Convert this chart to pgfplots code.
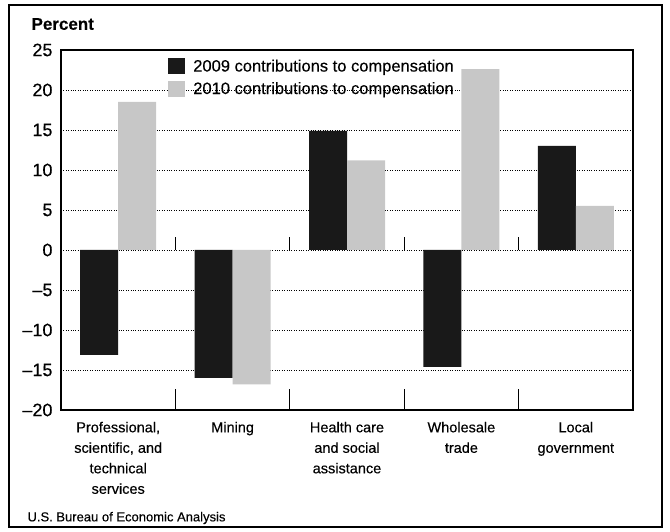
\documentclass[border=0pt]{standalone}
\usepackage{pgfplots}
\pgfplotsset{compat=1.18}
\usepackage{fontspec}
\setmainfont{Liberation Sans}[FakeBold=0.3]

\definecolor{dark}{gray}{0.1}
\definecolor{light}{gray}{0.78}

\begin{document}
\begin{tikzpicture}[x=1pt,y=1pt]
\begin{axis}[
    at={(61pt,122pt)}, anchor=south west,
    scale only axis, width=572pt, height=360pt,
    ymin=-20, ymax=25, xmin=-0.5, xmax=4.5,
    ytick={-20,-15,...,25},
    yticklabels={–20,–15,–10,–5,0,5,10,15,20,25},
    yticklabel style={font=\fontsize{18}{20}\selectfont, xshift=-5pt},
    ytick style={draw=none},
    ymajorgrids, grid style={black, dotted, line width=0.6pt},
    xtick={0,...,4},
    xticklabels={{Professional,\\scientific, and\\technical\\services},
                 {Mining},
                 {Health care\\and social\\assistance},
                 {Wholesale\\trade},
                 {Local\\government}},
    xticklabel style={font=\fontsize{14.5}{20.5}\selectfont, align=center, yshift=-4pt},
    xtick style={draw=none},
    xtick pos=bottom,
    axis line style={line width=1.6pt},
    ybar=0pt, bar width=38pt,
    legend style={at={(0.182,0.985)}, anchor=north west, draw=none, fill=none,
        font=\fontsize{16.5}{19}\selectfont, row sep=5pt,
        /tikz/every odd column/.append style={column sep=6pt}},
    legend cell align=left,
    legend image code/.code={\fill[#1] (0pt,-8pt) rectangle (17pt,8pt);},
]
\addplot[fill=dark, draw=none, bar shift=-19pt] coordinates {
    (0,-13.1) (1,-16.0) (2,14.9) (3,-14.6) (4,13.0)};
\addplot[fill=light, draw=none, bar shift=19pt] coordinates {
    (0,18.5) (1,-16.8) (2,11.2) (3,22.6) (4,5.5)};
\legend{2009 contributions to compensation, 2010 contributions to compensation}
\foreach \s in {0.5,1.5,2.5,3.5}{
  \edef\tmp{\noexpand\draw[black, line width=1pt] (axis cs:\s,0) -- ++(0pt,13pt);
    \noexpand\draw[black, line width=1pt] (axis cs:\s,-20) -- ++(0pt,21pt);}\tmp
}
\end{axis}
\node[anchor=west, font=\bfseries\fontsize{17}{20}\selectfont] at (28pt,508pt) {Percent};
\node[anchor=west, font=\fontsize{13}{16}\selectfont] at (24pt,14pt) {U.S. Bureau of Economic Analysis};
\draw[line width=2pt] (9pt,5pt) rectangle (662pt,527pt);
\pgfresetboundingbox
\path (0pt,0pt) rectangle (670pt,532pt);
\end{tikzpicture}
\end{document}
